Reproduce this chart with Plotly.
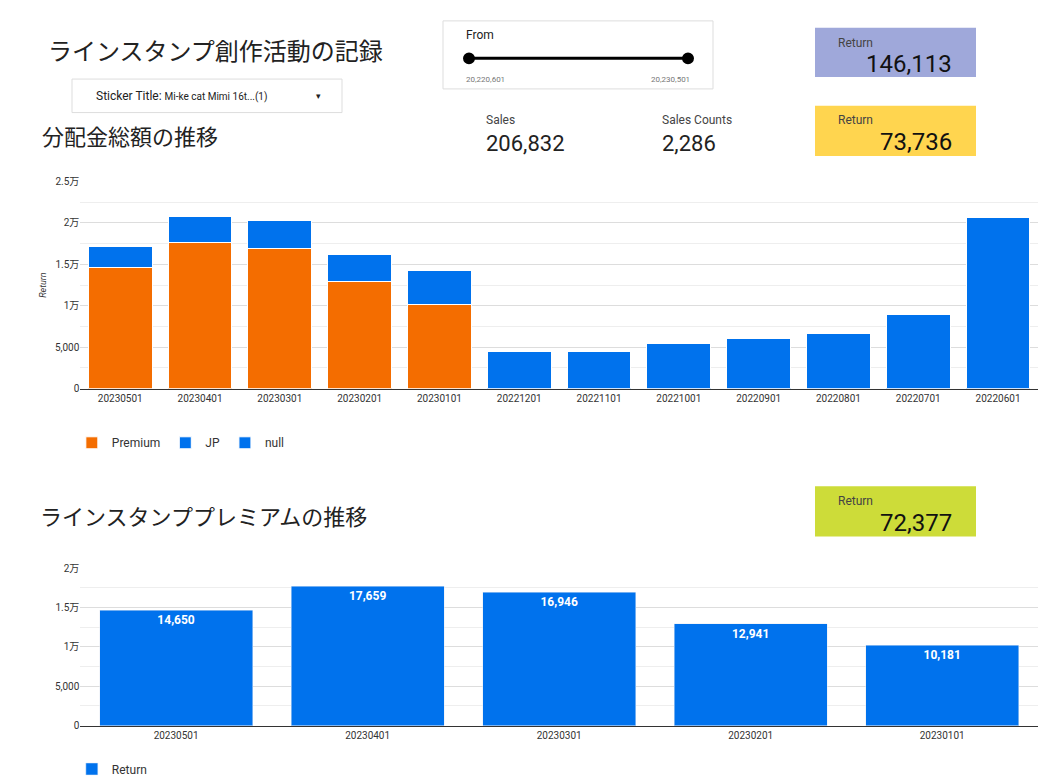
import plotly.graph_objects as go

months1 = ["20230501","20230401","20230301","20230201","20230101","20221201","20221101","20221001","20220901","20220801","20220701","20220601"]
premium = [14650,17659,16946,12941,10181,None,None,None,None,None,None,None]
jp = [2550,3150,3350,3200,4100,None,None,None,None,None,None,None]
null_vals = [None,None,None,None,None,4500,4500,5400,6100,6700,8900,20700]
months2 = ["20230501","20230401","20230301","20230201","20230101"]
prem2 = [14650,17659,16946,12941,10181]
yt1 = [0,5000,10000,15000,20000,25000]
yl1 = ["0","5,000","1万","1.5万","2万","2.5万"]
yt2 = [0,5000,10000,15000,20000]
yl2 = ["0","5,000","1万","1.5万","2万"]

F = "Roboto, Noto Sans CJK JP"
fig = go.Figure()
fig.add_bar(x=months1, y=premium, name="Premium", marker_color="#f46d00", marker_line=dict(color="white", width=1), xaxis="x", yaxis="y", legend="legend")
fig.add_bar(x=months1, y=jp, name="JP", marker_color="#0072ed", marker_line=dict(color="white", width=1), xaxis="x", yaxis="y", legend="legend")
fig.add_bar(x=months1, y=null_vals, name="null", marker_color="#0072ed", marker_line=dict(color="white", width=1), xaxis="x", yaxis="y", legend="legend")
fig.add_bar(x=months2, y=prem2, name="Return", marker_color="#0072ed", text=[f"{v:,}" for v in prem2],
            textposition="inside", insidetextanchor="end", textfont=dict(color="white", size=12, family="Roboto", weight="bold"),
            xaxis="x2", yaxis="y2", legend="legend2")

ax = dict(showgrid=False, showline=True, linecolor="#333", tickfont=dict(size=10, color="#333"), ticks="")
ay = dict(gridcolor="#ddd", tickfont=dict(size=10, color="#333"), zeroline=False,
          minor=dict(dtick=2500, showgrid=True, gridcolor="#eee"))
fig.update_layout(
    width=1064, height=784, margin=dict(l=0, r=0, t=0, b=0), plot_bgcolor="white", paper_bgcolor="white",
    barmode="stack", bargap=0.2, font=dict(family=F), showlegend=True,
    xaxis=dict(domain=[0.068, 0.968], anchor="y", **ax),
    yaxis=dict(domain=[0.514, 0.782], range=[0, 25000], tickvals=yt1, ticktext=yl1, anchor="x",
               title=dict(text="Return", font=dict(size=9, color="#333"), standoff=6), **ay),
    xaxis2=dict(domain=[0.068, 0.968], anchor="y2", **ax),
    yaxis2=dict(domain=[0.078, 0.282], range=[0, 20000], tickvals=yt2, ticktext=yl2, anchor="x2", **ay),
    legend=dict(orientation="h", x=0.06, y=0.444, xanchor="left", yanchor="middle", font=dict(size=12, color="#333"),
                traceorder="normal", itemwidth=30),
    legend2=dict(orientation="h", x=0.06, y=0.022, xanchor="left", yanchor="middle", font=dict(size=12, color="#333")),
)
fig.layout.yaxis.title.font.style = "italic"

def px(x, y):
    return x / 1064, 1 - y / 784

shapes = []
def card(x0, y0, x1, y1, fill, border="rgba(0,0,0,0)"):
    a, b = px(x0, y0); c, d = px(x1, y1)
    shapes.append(dict(type="rect", xref="paper", yref="paper", x0=a, x1=c, y0=d, y1=b, fillcolor=fill, line=dict(color=border, width=1), layer="below"))
card(435, 8, 705, 77, "white", "#ddd")
card(64, 67, 334, 101, "white", "#ddd")
card(807, 15, 968, 65, "#9fa8da")
card(807, 94, 968, 145, "#ffd54f")
card(807, 480, 968, 531, "#cddc39")
a, b = px(461, 46); c, _ = px(680, 46)
shapes.append(dict(type="line", xref="paper", yref="paper", x0=a, x1=c, y0=b, y1=b, line=dict(color="black", width=3)))
for xx in (461, 680):
    p, q = px(xx, 46); r = 5 / 1064; s = 5 / 784
    shapes.append(dict(type="circle", xref="paper", yref="paper", x0=p - r, x1=p + r, y0=q - s, y1=q + s, fillcolor="black", line=dict(color="black")))
fig.update_layout(shapes=shapes)

def txt(x, y, t, size, color="#222", anchor="left"):
    p, q = px(x, y)
    fig.add_annotation(xref="paper", yref="paper", x=p, y=q, text=t, showarrow=False, xanchor=anchor, yanchor="middle",
                       font=dict(size=size, color=color, family=F))
txt(38, 40, "ラインスタンプ創作活動の記録", 24)
txt(32, 126, "分配金総額の推移", 22)
txt(30, 512, "ラインスタンププレミアムの推移", 22)
txt(86, 84, "Sticker Title: <span style='font-size:10px'>Mi-ke cat Mimi 16t...(1)</span>", 12)
txt(306, 84, "▾", 9)
txt(456, 22, "From", 12)
txt(456, 67, "20,220,601", 8, "#777")
txt(684, 67, "20,230,501", 8, "#777", "right")
txt(476, 109, "Sales", 12, "#444")
txt(476, 132, "206,832", 22)
txt(652, 109, "Sales Counts", 12, "#444")
txt(652, 132, "2,286", 22)
for y0, v in ((15, "146,113"), (94, "73,736"), (480, "72,377")):
    txt(828, y0 + 15, "Return", 12, "#444")
    txt(946, y0 + 37, v, 24, "#111", "right")

fig.write_html("out.html")
